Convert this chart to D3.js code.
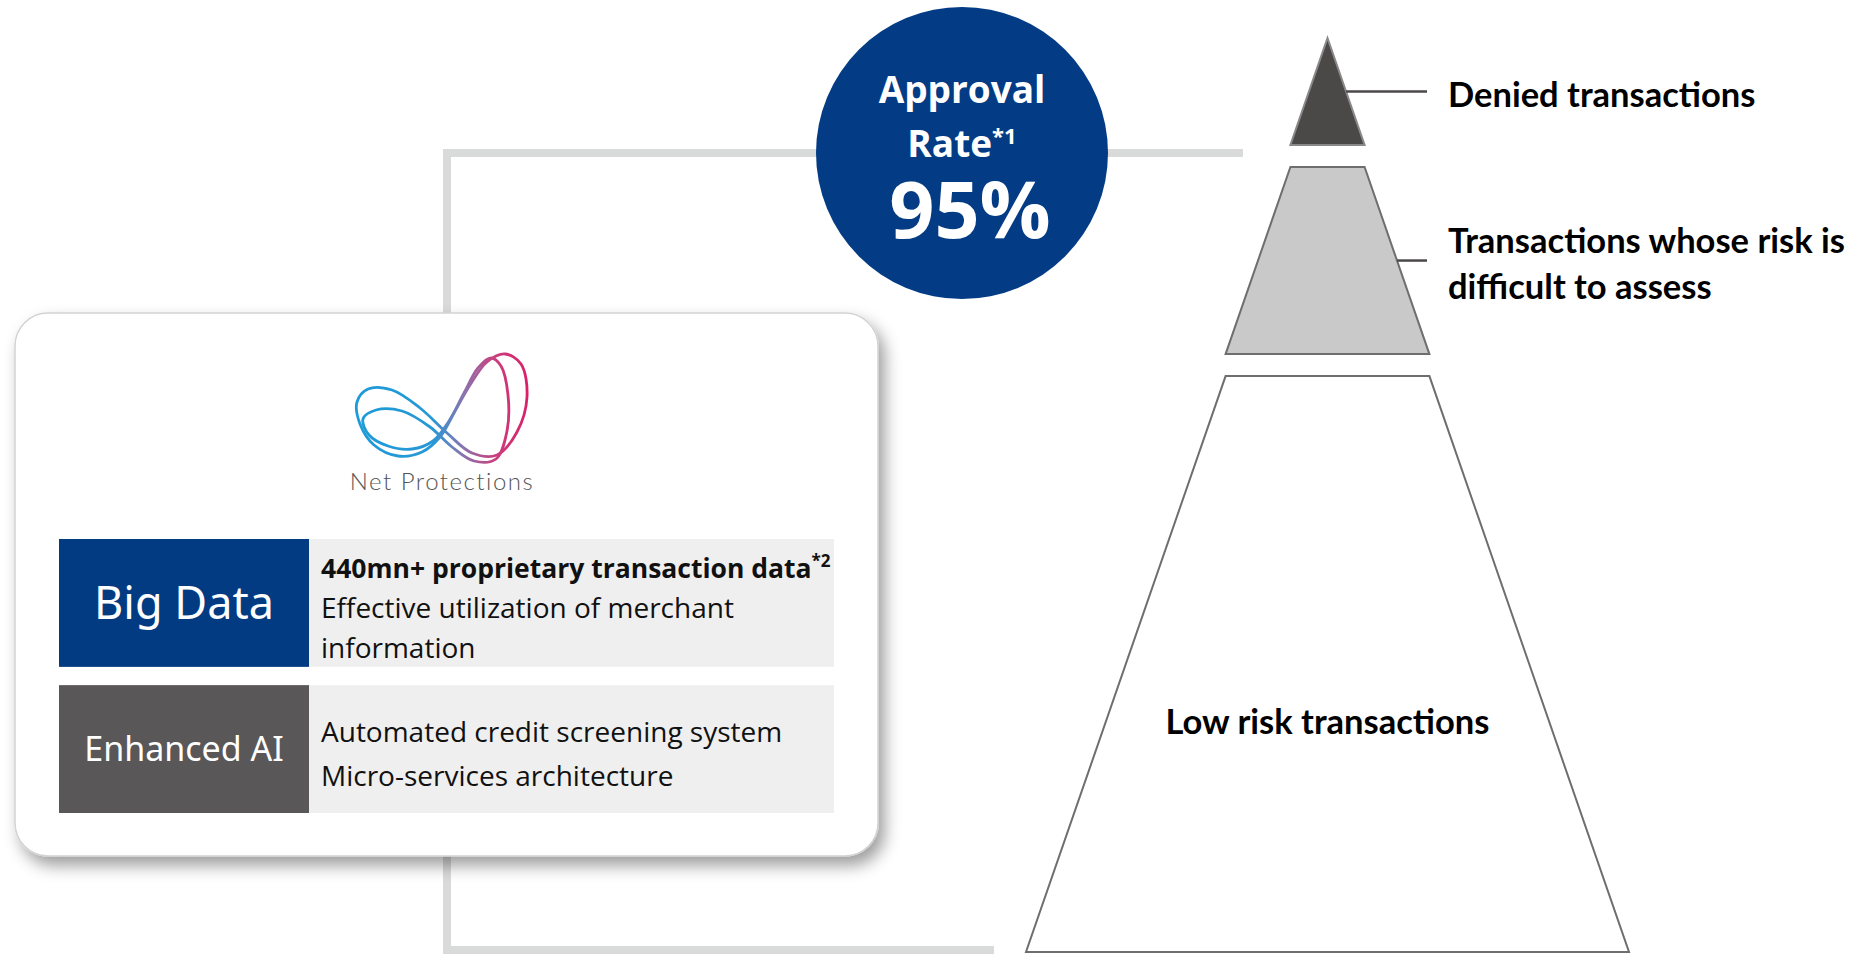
<!DOCTYPE html>
<html>
<head>
<meta charset="utf-8">
<script src="https://cdn.jsdelivr.net/npm/d3@7"></script>
<style>
  body { margin: 0; background: #fff; }
  svg { display: block; }
</style>
</head>
<body>
<svg id="chart"></svg>
<script>
// ---- data ----
const approvalRate = 95;
const approvalLabel = ["Approval", "Rate"];
const approvalNote = "*1";

const layerNames = ["Denied transactions", "Transactions whose risk is difficult to assess", "Low risk transactions"];
const layerLines = [["Denied transactions"], ["Transactions whose risk is", "difficult to assess"], ["Low risk transactions"]];
const layerShare = [12.3, 21.5, 66.2]; // share of pyramid height, %

const featureNames = ["Big Data", "Enhanced AI"];
const featureHighlights = ["440mn+ proprietary transaction data", ""];
const featureNoteMarks = ["*2", ""];
const featureDetails = [
  ["Effective utilization of merchant", "information"],
  ["Automated credit screening system", "Micro-services architecture"]
];

const brandName = "Net Protections";

// ---- setup ----
const width = 1858, height = 955;
const svg = d3.select("#chart").attr("width", width).attr("height", height);

const defs = svg.append("defs");
const shadow = defs.append("filter").attr("id", "cardShadow")
  .attr("x", "-10%").attr("y", "-10%").attr("width", "125%").attr("height", "135%");
shadow.append("feDropShadow")
  .attr("dx", 6).attr("dy", 9).attr("stdDeviation", 8)
  .attr("flood-color", "#000").attr("flood-opacity", 0.38);

const grad = defs.append("linearGradient").attr("id", "logoGrad")
  .attr("gradientUnits", "userSpaceOnUse")
  .attr("x1", 356).attr("x2", 528).attr("y1", 0).attr("y2", 0);
[[0, "#1d9bd8"], [0.45, "#2898d5"], [0.62, "#8874b0"], [0.8, "#c8417f"], [1, "#d8216a"]]
  .forEach(([o, c]) => grad.append("stop").attr("offset", o).attr("stop-color", c));

// ---- connector lines ----
svg.append("path")
  .attr("d", "M1243,153 H447 V950 H994")
  .attr("fill", "none")
  .attr("stroke", "#d9dada")
  .attr("stroke-width", 8);

// ---- approval circle ----
const circle = svg.append("g").attr("transform", "translate(962,153)");
circle.append("circle").attr("r", 146).attr("fill", "#033c85");
// one text block so the stacked lines stay together
const head = circle.append("text")
  .attr("text-anchor", "middle")
  .attr("font-family", "'Open Sans', sans-serif").attr("font-weight", 700)
  .attr("font-size", 37).attr("fill", "#fff");
head.append("tspan").attr("x", 0).attr("y", -50).text(approvalLabel[0]);
head.append("tspan").attr("x", 0).attr("y", 4).text(approvalLabel[1]);
head.append("tspan").attr("dy", -13).attr("font-size", 22).text(approvalNote);
head.append("tspan").attr("x", 8).attr("y", 85).attr("font-size", 79).text(approvalRate + "%");

// ---- card ----
const card = svg.append("g");
card.append("rect")
  .attr("x", 15).attr("y", 313).attr("width", 863).attr("height", 543)
  .attr("rx", 33)
  .attr("fill", "#fff").attr("stroke", "#d2d2d2").attr("stroke-width", 1.5)
  .attr("filter", "url(#cardShadow)");

// logo
const loops = [
  [[357,402],[368,389],[392,390],[420,408],[447,433],[472,453],[497,455],[517,432],[527,397],[521,364],[505,354],[487,362],[470,385],[454,413],[440,437],[422,452],[398,456],[374,445],[360,424]],
  [[363,419],[376,410],[402,411],[430,427],[452,447],[474,461],[496,459],[507,431],[508,395],[501,366],[491,358],[478,368],[464,393],[449,421],[433,441],[412,449],[388,446],[369,435]]
];
card.selectAll("path.logo")
  .data(loops)
  .join("path")
  .attr("class", "logo")
  .attr("d", d3.line().curve(d3.curveCatmullRomClosed.alpha(0.5)))
  .attr("fill", "none")
  .attr("stroke", "url(#logoGrad)")
  .attr("stroke-width", 2.8);
card.append("text")
  .attr("x", 442).attr("y", 490).attr("text-anchor", "middle")
  .attr("font-family", "Lato, sans-serif").attr("font-weight", 300)
  .attr("font-size", 24).attr("letter-spacing", 1.5).attr("fill", "#555")
  .text(brandName);

// feature rows
const row = d3.scaleBand().domain(featureNames).range([539, 813]).paddingInner(0.125);
const labelX = d3.scaleOrdinal().domain(["tag", "desc"]).range([59, 309]);
const tagW = 250, descW = 525;
const tagFill = d3.scaleOrdinal().domain(featureNames).range(["#023b82", "#595757"]);
const tagSize = d3.scaleOrdinal().domain(featureNames).range([45, 34]);
const rowLineH = d3.scaleOrdinal().domain(featureNames).range([40, 44]);

const rows = card.selectAll("g.row")
  .data(featureNames)
  .join("g")
  .attr("class", "row")
  .attr("transform", d => `translate(0,${row(d)})`);

rows.append("rect")
  .attr("x", labelX("desc")).attr("width", descW).attr("height", row.bandwidth())
  .attr("fill", "#efefef");
rows.append("rect")
  .attr("x", labelX("tag")).attr("width", tagW).attr("height", row.bandwidth())
  .attr("fill", d => tagFill(d));
rows.append("text")
  .attr("x", labelX("tag") + tagW / 2)
  .attr("y", d => row.bandwidth() / 2 + tagSize(d) * 0.36)
  .attr("text-anchor", "middle")
  .attr("font-family", "'Noto Sans', sans-serif")
  .attr("font-size", d => tagSize(d))
  .attr("fill", "#fff")
  .text(d => d);

rows.each(function (name, i) {
  const g = d3.select(this);
  const lines = [];
  if (featureHighlights[i]) lines.push({ text: featureHighlights[i], bold: true, note: featureNoteMarks[i] });
  featureDetails[i].forEach(t => lines.push({ text: t, bold: false }));
  const mid = row.bandwidth() / 2, lh = rowLineH(name);
  lines.forEach((ln, k) => {
    const t = g.append("text")
      .attr("x", labelX("desc") + 12)
      .attr("y", mid + (k - (lines.length - 1) / 2) * lh + 15)
      .attr("font-family", "'Open Sans', sans-serif")
      .attr("font-weight", ln.bold ? 700 : 400)
      .attr("font-size", ln.bold ? 26.5 : 28)
      .attr("fill", "#111");
    t.append("tspan").text(ln.text);
    if (ln.note) t.append("tspan").attr("dy", -11).attr("font-size", 17).text(ln.note);
  });
});

// ---- pyramid ----
const cx = 1327.5, gap = 22;
const depth = d3.scaleLinear().domain([0, 100]).range([38, 908]);
const halfW = d3.scaleLinear().domain([0, 100]).range([0, 301.5]);
const ends = d3.cumsum(layerShare);
const layers = layerNames.map((name, i) => {
  const s = i ? ends[i - 1] : 0, e = ends[i];
  return { name, i, s, e, y0: depth(s) + gap * i, y1: depth(e) + gap * i };
});
const layerFill = d3.scaleOrdinal().domain(layerNames).range(["#4b4848", "#c8c9c8", "#ffffff"]);
const layerStroke = d3.scaleOrdinal().domain(layerNames).range(["#8a8888", "#6e6e6e", "#6e6e6e"]);

const pyr = svg.append("g");
pyr.selectAll("path.layer")
  .data(layers)
  .join("path")
  .attr("class", "layer")
  .attr("d", d => d3.line()([
    [cx - halfW(d.s), d.y0], [cx + halfW(d.s), d.y0],
    [cx + halfW(d.e), d.y1], [cx - halfW(d.e), d.y1]
  ]) + "Z")
  .attr("fill", d => layerFill(d.name))
  .attr("stroke", d => layerStroke(d.name))
  .attr("stroke-width", 2)
  .attr("stroke-linejoin", "miter");

const callouts = layers.filter(d => d.i < 2);
pyr.selectAll("line.pointer")
  .data(callouts)
  .join("line")
  .attr("class", "pointer")
  .attr("x1", d => cx + halfW((d.s + d.e) / 2))
  .attr("x2", 1427)
  .attr("y1", d => (d.y0 + d.y1) / 2)
  .attr("y2", d => (d.y0 + d.y1) / 2)
  .attr("stroke", "#4b4848").attr("stroke-width", 2.5);

const labelFont = "Lato, sans-serif";
callouts.forEach(d => {
  const lines = layerLines[d.i];
  const ym = (d.y0 + d.y1) / 2;
  lines.forEach((t, k) => {
    pyr.append("text")
      .attr("x", 1448)
      .attr("y", ym + 15 + (k - (lines.length - 1) / 2) * 46)
      .attr("font-family", labelFont).attr("font-weight", 700)
      .attr("font-size", 34.5).attr("fill", "#000")
      .text(t);
  });
});
const base = layers[2];
pyr.append("text")
  .attr("x", cx)
  .attr("y", base.y0 + (base.y1 - base.y0) * 0.6 + 12)
  .attr("text-anchor", "middle")
  .attr("font-family", labelFont).attr("font-weight", 700)
  .attr("font-size", 34.5).attr("fill", "#000")
  .text(layerLines[2][0]);
</script>
</body>
</html>
